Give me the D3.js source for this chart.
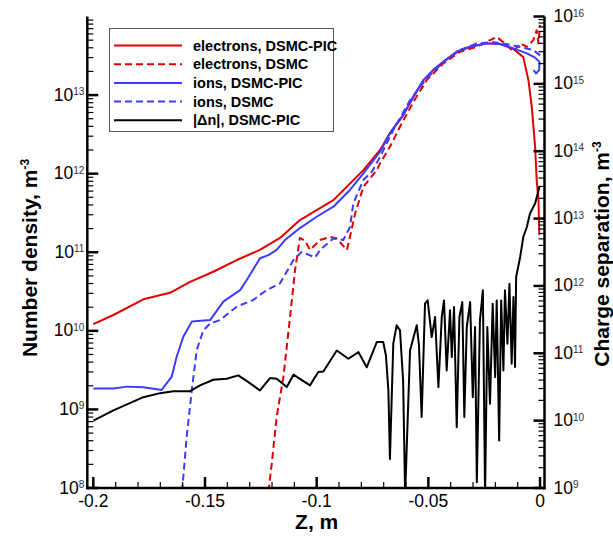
<!DOCTYPE html>
<html>
<head>
<meta charset="utf-8">
<title>Number density and charge separation</title>
<script src="https://d3js.org/d3.v7.min.js"></script>
<style>
  body { margin: 0; background: white; }
  text { font-family: "Liberation Sans", Arial, Helvetica, sans-serif; }
</style>
</head>
<body>
<div id="plot"></div>
<script>
// ---- data: [z (m), value (m^-3)] ----
var elecPic = [[-0.2,1.22e10],[-0.191,1.59e10],[-0.1776,2.52e10],[-0.1657,3.05e10],[-0.1567,4.2e10],
  [-0.1463,5.65e10],[-0.1358,7.96e10],[-0.1254,1.07e11],[-0.1164,1.52e11],[-0.1075,2.57e11],
  [-0.0925,4.6e11],[-0.0791,1.11e12],[-0.0716,2.0e12],[-0.0672,3.3e12],[-0.0612,5.6e12],
  [-0.0567,9.5e12],[-0.0522,1.55e13],[-0.0478,2.08e13],[-0.0433,2.65e13],[-0.0373,3.56e13],
  [-0.0313,4.12e13],[-0.0239,4.55e13],[-0.0179,4.46e13],[-0.0119,3.85e13],[-0.0075,3.04e13],
  [-0.0052,1.55e13],[-0.0037,7.1e12],[-0.0022,2.2e12],[-0.0015,8.3e11],[-0.0007,4.6e11],[-0.0003,1.66e11]]

var elecDsmc = [[-0.1216,9e7],[-0.1201,2.06e8],[-0.1179,8.1e8],[-0.1149,2.6e9],[-0.1119,1.51e10],
  [-0.1097,5.9e10],[-0.1075,1.52e11],[-0.1052,1.4e11],[-0.103,1.07e11],[-0.0985,1.43e11],
  [-0.094,1.57e11],[-0.091,1.5e11],[-0.0865,1.07e11],[-0.0851,1.57e11],[-0.0828,3.1e11],
  [-0.0791,6.8e11],[-0.0731,1.11e12],[-0.0716,1.35e12],[-0.0672,2.2e12],[-0.0627,3.95e12],
  [-0.0567,8.2e12],[-0.0507,1.55e13],[-0.0433,2.53e13],[-0.0358,3.56e13],[-0.0283,4.12e13],
  [-0.0194,5.5e13],[-0.0149,4.33e13],[-0.0119,3.56e13],[-0.0089,4.55e13],[-0.0059,4.12e13],
  [-0.003,5.0e13],[-0.0015,6.7e13],[-0.0007,4.55e13],[0.0,7.8e13]]

var ionPic = [[-0.2,1.85e9],[-0.191,1.85e9],[-0.185,1.95e9],[-0.1776,1.91e9],[-0.1694,1.77e9],
  [-0.1649,2.61e9],[-0.1627,4.68e9],[-0.1597,8.4e9],[-0.1559,1.31e10],[-0.1477,1.37e10],
  [-0.1418,2.35e10],[-0.1343,3.3e10],[-0.1313,4.43e10],[-0.1254,8.4e10],[-0.1216,9.2e10],
  [-0.1179,1.07e11],[-0.1142,1.43e11],[-0.1075,2.03e11],[-0.1,2.83e11],[-0.0925,3.8e11],
  [-0.0851,6.2e11],[-0.0791,1.01e12],[-0.0716,1.9e12],[-0.0672,3.26e12],[-0.0612,5.57e12],
  [-0.0567,9.5e12],[-0.0522,1.55e13],[-0.0478,2.08e13],[-0.0433,2.65e13],[-0.0373,3.56e13],
  [-0.0313,4.12e13],[-0.0239,4.55e13],[-0.0179,4.46e13],[-0.0119,3.93e13],[-0.0059,3.4e13],
  [-0.0022,3.0e13],[-0.0002,2.63e13],[-0.0004,2.08e13],[-0.0018,1.88e13],[-0.0029,2.08e13]]

var ionDsmc = [[-0.1604,9e7],[-0.1597,1.39e8],[-0.1582,4.5e8],[-0.1559,1.77e9],[-0.1537,5.7e9],
  [-0.1507,1.02e10],[-0.1477,1.24e10],[-0.1433,1.37e10],[-0.1358,2.03e10],[-0.1284,2.47e10],
  [-0.1224,3.3e10],[-0.1164,4.02e10],[-0.1104,7.96e10],[-0.1067,1.01e11],[-0.1007,8.6e10],
  [-0.0985,1.07e11],[-0.0925,1.5e11],[-0.0881,1.43e11],[-0.0851,2.1e11],[-0.0836,4.2e11],
  [-0.0791,8.3e11],[-0.0753,1.06e12],[-0.0716,1.64e12],[-0.0657,3.6e12],[-0.0582,8.6e12],
  [-0.0507,1.64e13],[-0.0433,2.63e13],[-0.0358,3.74e13],[-0.0283,4.53e13],[-0.0209,4.72e13],
  [-0.0149,4.46e13],[-0.0089,4.08e13],[-0.003,3.74e13],[0.0,3.2e13]]

// |dn| on the right axis
var deltaN = [[-0.2,1.0e10],[-0.191,1.42e10],[-0.1776,2.23e10],[-0.1701,2.56e10],[-0.1642,2.74e10],
  [-0.1567,2.74e10],[-0.1522,3.34e10],[-0.1463,4.05e10],[-0.1403,4.2e10],[-0.1351,4.7e10],
  [-0.1306,3.73e10],[-0.1254,2.81e10],[-0.1209,4.28e10],[-0.1179,4.2e10],[-0.1134,3.15e10],
  [-0.1104,4.81e10],[-0.103,3.34e10],[-0.0993,5.26e10],[-0.097,5.38e10],[-0.091,1.1e11],
  [-0.0858,8.3e10],[-0.0813,1.04e11],[-0.0776,6.2e10],[-0.0731,1.47e11],[-0.0702,1.47e11],
  [-0.069,9.3e10],[-0.0679,2.81e10],[-0.0672,2.7e9],[-0.0657,1.39e11],[-0.0642,2.6e11],
  [-0.0627,2.19e11],[-0.0613,3.95e10],[-0.0604,8e8],[-0.0582,1.1e11],[-0.0552,2.6e11],
  [-0.0542,1.31e11],[-0.053,1.13e10],[-0.0515,5.46e11],[-0.0503,6.1e11],[-0.0485,1.74e11],
  [-0.047,3.45e11],[-0.0455,3.15e10],[-0.044,3.45e11],[-0.043,6.1e11],[-0.0418,5.57e10],
  [-0.0403,4.34e11],[-0.0395,8.8e10],[-0.0385,4.87e11],[-0.0373,8.0e9],[-0.0361,3.45e11],
  [-0.0348,5.77e11],[-0.0339,1.13e10],[-0.0328,2.45e11],[-0.0313,5.77e11],[-0.0301,2.23e10],
  [-0.0291,2.45e11],[-0.0283,1.22e9],[-0.0269,3.08e11],[-0.0256,8.6e11],[-0.0246,8e8],
  [-0.0236,2.45e11],[-0.0224,1.78e10],[-0.0212,5.46e11],[-0.0201,4.43e10],[-0.0194,6.1e11],
  [-0.0183,5.08e9],[-0.0174,6.1e11],[-0.0164,5.57e10],[-0.0157,8.6e11],[-0.0146,1.39e11],
  [-0.0137,1.08e12],[-0.0127,7.0e10],[-0.0119,6.84e11],[-0.0112,6.24e10],[-0.0107,1.36e12],
  [-0.0089,2.69e12],[-0.0075,5.33e12],[-0.0059,7.5e12],[-0.0045,1.19e13],[-0.0022,1.67e13],
  [-0.0003,2.95e13]]

var zTicks = [-0.2, -0.15, -0.1, -0.05, 0]
var zTickLabels = ['-0.2', '-0.15', '-0.1', '-0.05', '0']
var leftExps = [8, 9, 10, 11, 12, 13]
var rightExps = [9, 10, 11, 12, 13, 14, 15, 16]

var legendItems = [
  {name: 'electrons, DSMC-PIC', color: '#e00000', dash: null},
  {name: 'electrons, DSMC', color: '#e00000', dash: '7,4'},
  {name: 'ions, DSMC-PIC', color: '#3c3cff', dash: null},
  {name: 'ions, DSMC', color: '#3c3cff', dash: '7,4'},
  {name: '|\u0394n|, DSMC-PIC', color: '#000000', dash: null}
]

var W = 613, H = 537
// plot box (note: "top" is reserved on window, so use p* names)
var pLeft = 87.3, pRight = 544.5, pTop = 16.5, pBottom = 488

var svg = d3.select('#plot').append('svg')
  .attr('width', W).attr('height', H)

var x = d3.scaleLinear().domain([-0.2027, 0.002]).range([pLeft, pRight])
var yL = d3.scaleLog().domain([1e8, 1e14]).range([pBottom, pTop])
var yR = d3.scaleLog().domain([1e9, 1e16]).range([pBottom, pTop])

svg.append('clipPath').attr('id', 'clip')
  .append('rect').attr('x', pLeft).attr('y', pTop)
  .attr('width', pRight - pLeft).attr('height', pBottom - pTop)

// curves
var lineL = d3.line().x(function(d){return x(d[0])}).y(function(d){return yL(d[1])})
var lineR = d3.line().x(function(d){return x(d[0])}).y(function(d){return yR(d[1])})

var curves = [
  {data: elecPic, line: lineL, item: legendItems[0]},
  {data: elecDsmc, line: lineL, item: legendItems[1]},
  {data: ionPic, line: lineL, item: legendItems[2]},
  {data: ionDsmc, line: lineL, item: legendItems[3]},
  {data: deltaN, line: lineR, item: legendItems[4]}
]

var g = svg.append('g').attr('clip-path', 'url(#clip)')
g.selectAll('path').data(curves).enter().append('path')
  .attr('d', function(d){return d.line(d.data)})
  .attr('fill', 'none')
  .attr('stroke', function(d){return d.item.color})
  .attr('stroke-width', 2)
  .attr('stroke-linejoin', 'round')
  .attr('stroke-dasharray', function(d){return d.item.dash})

// axes lines
var ax = svg.append('g').attr('stroke', 'black')
ax.append('line').attr('x1', pLeft).attr('x2', pLeft).attr('y1', pTop).attr('y2', pBottom + 1.2).attr('stroke-width', 2.5)
ax.append('line').attr('x1', pRight).attr('x2', pRight).attr('y1', pTop).attr('y2', pBottom + 1.2).attr('stroke-width', 2.5)
ax.append('line').attr('x1', pLeft - 1.2).attr('x2', pRight + 1.2).attr('y1', pBottom).attr('y2', pBottom).attr('stroke-width', 2.5)

// left ticks
var leftMinor = []
leftExps.forEach(function(e){ for (var m = 2; m < 10; m++) leftMinor.push(m * Math.pow(10, e)) })
ax.selectAll('.lmin').data(leftMinor).enter().append('line')
  .attr('x1', pLeft).attr('x2', pLeft + 6)
  .attr('y1', function(d){return yL(d)}).attr('y2', function(d){return yL(d)})
  .attr('stroke-width', 1.2)
ax.selectAll('.lmaj').data(leftExps).enter().append('line')
  .attr('x1', pLeft).attr('x2', pLeft + 11)
  .attr('y1', function(d){return yL(Math.pow(10, d))}).attr('y2', function(d){return yL(Math.pow(10, d))})
  .attr('stroke-width', 2.5)

// right ticks
var rightMinor = []
rightExps.slice(0, -1).forEach(function(e){ for (var m = 2; m < 10; m++) rightMinor.push(m * Math.pow(10, e)) })
ax.selectAll('.rmin').data(rightMinor).enter().append('line')
  .attr('x1', pRight).attr('x2', pRight - 6)
  .attr('y1', function(d){return yR(d)}).attr('y2', function(d){return yR(d)})
  .attr('stroke-width', 1.2)
ax.selectAll('.rmaj').data(rightExps).enter().append('line')
  .attr('x1', pRight).attr('x2', pRight - 11)
  .attr('y1', function(d){return yR(Math.pow(10, d))}).attr('y2', function(d){return yR(Math.pow(10, d))})
  .attr('stroke-width', 2.5)

// bottom ticks
var zMinor = d3.range(-19, 0).filter(function(i){return i % 5 !== 0}).map(function(i){return i / 100})
ax.selectAll('.bmin').data(zMinor).enter().append('line')
  .attr('x1', function(d){return x(d)}).attr('x2', function(d){return x(d)})
  .attr('y1', pBottom).attr('y2', pBottom - 6)
  .attr('stroke-width', 1.2)
ax.selectAll('.bmaj').data(zTicks).enter().append('line')
  .attr('x1', function(d){return x(d)}).attr('x2', function(d){return x(d)})
  .attr('y1', pBottom).attr('y2', pBottom - 11)
  .attr('stroke-width', 2.5)

// tick labels
function powLabel(sel) {
  sel.append('tspan').text('10')
  sel.append('tspan').attr('dy', -5.5).attr('font-size', 10).attr('fill', '#333')
    .text(function(d){return d})
}
svg.selectAll('.ll').data(leftExps).enter().append('text')
  .attr('x', pLeft - 3).attr('y', function(d){return yL(Math.pow(10, d)) + 5.5})
  .attr('text-anchor', 'end').attr('font-size', 17.5)
  .call(powLabel)
svg.selectAll('.rl').data(rightExps).enter().append('text')
  .attr('x', pRight + 9).attr('y', function(d){return yR(Math.pow(10, d)) + 5.5})
  .attr('text-anchor', 'start').attr('font-size', 17.5)
  .call(powLabel)
svg.selectAll('.bl').data(zTicks).enter().append('text')
  .attr('x', function(d){return x(d)}).attr('y', 506.5)
  .attr('text-anchor', 'middle').attr('font-size', 17.5)
  .text(function(d, i){return zTickLabels[i]})

// axis titles
svg.append('text').attr('x', x(-0.1)).attr('y', 529)
  .attr('text-anchor', 'middle').attr('font-size', 21).attr('font-weight', 'bold')
  .text('Z, m')

function titleY(txt, xpos, ymid) {
  var t = svg.append('text')
    .attr('transform', 'translate(' + xpos + ',' + ymid + ') rotate(-90)')
    .attr('text-anchor', 'middle').attr('font-size', 21).attr('font-weight', 'bold')
  t.append('tspan').text(txt)
  t.append('tspan').attr('dy', -8).attr('font-size', 12).text('-3')
}
titleY('Number density, m', 37, 258)
titleY('Charge separation, m', 609, 254)

// legend
var lg = svg.append('g')
lg.append('rect').attr('x', 109.5).attr('y', 28.5).attr('width', 224).attr('height', 103)
  .attr('fill', 'white').attr('stroke', '#555').attr('stroke-width', 1)
var li = lg.selectAll('.li').data(legendItems).enter().append('g')
  .attr('transform', function(d, i){return 'translate(0,' + (45.5 + i * 18.7) + ')'})
li.append('line').attr('x1', 114).attr('x2', 182).attr('y1', 0).attr('y2', 0)
  .attr('stroke', function(d){return d.color}).attr('stroke-width', 2)
  .attr('stroke-dasharray', function(d){return d.dash})
li.append('text').attr('x', 193).attr('y', 5)
  .attr('font-size', 14.5).attr('font-weight', 'bold')
  .text(function(d){return d.name})
</script>
</body>
</html>
